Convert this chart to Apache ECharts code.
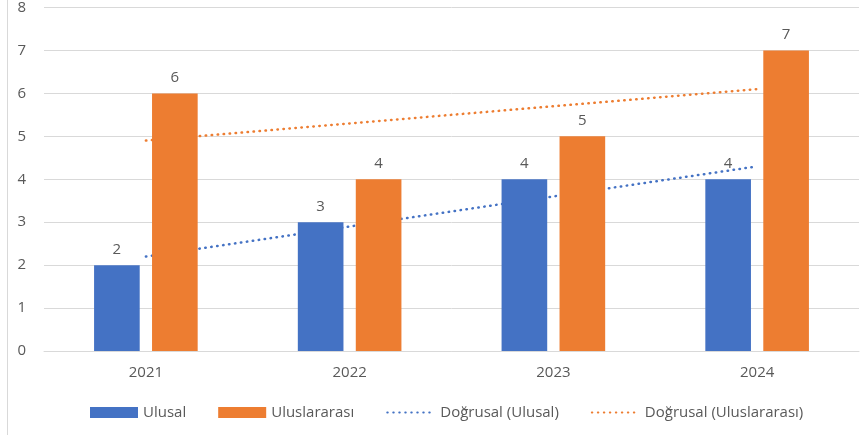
<!DOCTYPE html>
<html>
<head>
<meta charset="utf-8">
<script src="https://cdn.jsdelivr.net/npm/echarts@6/dist/echarts.min.js"></script>
<style>
html, body { margin: 0; padding: 0; background: #fff; }
#main { width: 867px; height: 435px; }
</style>
</head>
<body>
<div id="main"></div>
<script>
var chartDom = document.getElementById('main');
var myChart = echarts.init(chartDom, null, { renderer: 'canvas' });

const years = ['2021', '2022', '2023', '2024'];
const ulusal = [2, 3, 4, 4];
const uluslararasi = [6, 4, 5, 7];
// trend lines
const trendUlusal = [2.2, 2.9, 3.6, 4.3];
const trendUluslararasi = [4.9, 5.3, 5.7, 6.1];

const blue = '#4472C4';
const orange = '#ED7D31';
const textColor = '#595959';
const font = '"Open Sans", sans-serif';

const barLabel = {
    show: true,
    position: 'top',
    distance: 8,
    color: textColor,
    fontSize: 15,
    fontFamily: font
};

const dots = {
    width: 2.5,
    type: [0.5, 5.5],
    cap: 'round'
};

var option = {
    animation: false,
    grid: { left: 44, right: 8, top: 7, bottom: 84 },
    legend: {
        left: 85,
        top: 400,
        itemWidth: 48,
        itemHeight: 11,
        itemGap: 32,
        textStyle: { color: textColor, fontSize: 15, fontFamily: font },
        data: [
            { name: 'Ulusal', icon: 'rect' },
            { name: 'Uluslararası', icon: 'rect' },
            { name: 'Doğrusal (Ulusal)', itemStyle: { opacity: 0 } },
            { name: 'Doğrusal (Uluslararası)', itemStyle: { opacity: 0 } }
        ]
    },
    xAxis: {
        type: 'category',
        data: years,
        axisLine: { lineStyle: { color: '#D9D9D9' } },
        axisTick: { show: false },
        axisLabel: { color: textColor, fontSize: 15, fontFamily: font, margin: 14 }
    },
    yAxis: {
        type: 'value',
        min: 0,
        max: 8,
        interval: 1,
        axisLine: { show: false },
        axisTick: { show: false },
        axisLabel: { color: textColor, fontSize: 15, fontFamily: font, margin: 18 },
        splitLine: { lineStyle: { color: '#D9D9D9' } }
    },
    graphic: [{
        type: 'line',
        shape: { x1: 7.5, y1: 0, x2: 7.5, y2: 435 },
        style: { stroke: '#D9D9D9', lineWidth: 1 },
        silent: true
    }],
    series: [
        {
            name: 'Ulusal',
            type: 'bar',
            data: ulusal,
            barWidth: '22.4%',
            barGap: '27%',
            itemStyle: { color: blue },
            label: barLabel,
            z: 3
        },
        {
            name: 'Uluslararası',
            type: 'bar',
            data: uluslararasi,
            barWidth: '22.4%',
            barGap: '27%',
            itemStyle: { color: orange },
            label: barLabel,
            z: 3
        },
        {
            name: 'Doğrusal (Ulusal)',
            type: 'line',
            data: trendUlusal,
            symbol: 'none',
            itemStyle: { color: blue },
            lineStyle: Object.assign({ color: blue }, dots),
            z: 1
        },
        {
            name: 'Doğrusal (Uluslararası)',
            type: 'line',
            data: trendUluslararasi,
            symbol: 'none',
            itemStyle: { color: orange },
            lineStyle: Object.assign({ color: orange }, dots),
            z: 1
        }
    ]
};
option && myChart.setOption(option);
</script>
</body>
</html>
